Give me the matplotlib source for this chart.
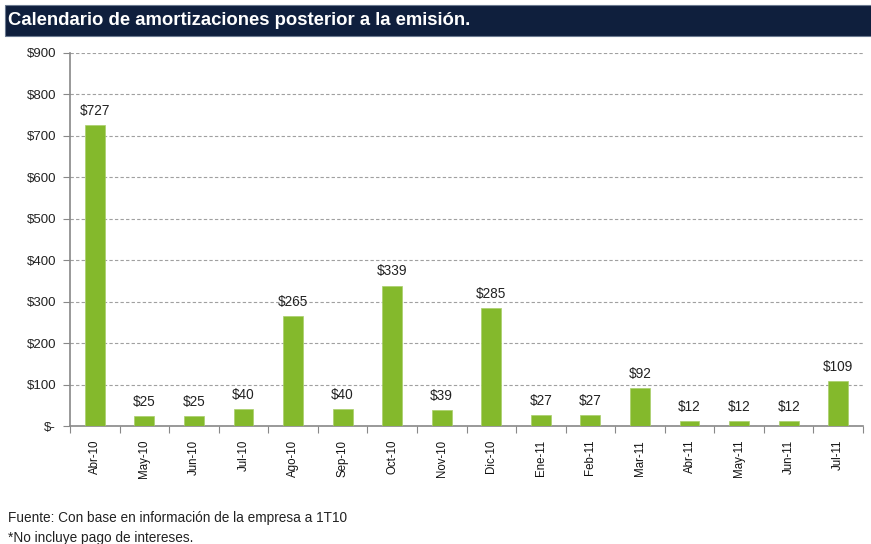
import matplotlib.pyplot as plt
from matplotlib.patches import Rectangle

plt.rcParams['font.family'] = ['Liberation Sans', 'DejaVu Sans']

meses = ['Abr-10', 'May-10', 'Jun-10', 'Jul-10', 'Ago-10', 'Sep-10', 'Oct-10', 'Nov-10',
         'Dic-10', 'Ene-11', 'Feb-11', 'Mar-11', 'Abr-11', 'May-11', 'Jun-11', 'Jul-11']
montos = [727, 25, 25, 40, 265, 40, 339, 39, 285, 27, 27, 92, 12, 12, 12, 109]
yticks = [0, 100, 200, 300, 400, 500, 600, 700, 800, 900]
ylabels = ['$-', '$100', '$200', '$300', '$400', '$500', '$600', '$700', '$800', '$900']

W, H = 871, 544
fig = plt.figure(figsize=(W / 100, H / 100), dpi=100)

# barra del titulo
fig.patches.append(Rectangle((5 / W, 1 - 36 / H), 1, 31 / H, transform=fig.transFigure,
                             facecolor='#0f1f3d', edgecolor='#6b7a90', lw=0.8))
fig.text(8 / W, 1 - 20.5 / H, 'Calendario de amortizaciones posterior a la emisión.',
         color='white', fontsize=13.3, fontweight='bold', va='center')

ax = fig.add_axes([70 / W, 1 - 426 / H, (863 - 70) / W, (426 - 53) / H])
x = list(range(len(meses)))
ax.bar(x, montos, width=0.4, color='#84b92c', edgecolor='#a9cf6a', linewidth=0.5, zorder=3)
for xi, v in zip(x, montos):
    ax.text(xi, v + 17, '$%d' % v, ha='center', va='bottom', fontsize=9.8, color='#222222')

ax.set_xlim(-0.5, len(meses) - 0.5)
ax.set_ylim(0, 900)
ax.set_yticks(yticks)
ax.set_yticklabels(ylabels, fontsize=9.5, color='#222222')
ax.yaxis.grid(True, linestyle=(0, (3, 2)), color='#a0a0a0', lw=0.8, zorder=0)

# ticks entre categorias y etiquetas al centro
ax.set_xticks([i - 0.5 for i in range(len(meses) + 1)])
ax.set_xticklabels([])
ax.set_xticks(x, minor=True)
ax.set_xticklabels(meses, minor=True, rotation=90, fontsize=8.3, color='#111111')
ax.tick_params(axis='x', which='major', length=5, color='#888888', direction='out')
ax.tick_params(axis='x', which='minor', length=0, pad=10)
ax.tick_params(axis='y', length=5, color='#888888', pad=5)

for s in ['top', 'right']:
    ax.spines[s].set_visible(False)
for s in ['left', 'bottom']:
    ax.spines[s].set_color('#888888')
    ax.spines[s].set_linewidth(1.2)

fig.text(8 / W, 1 - 518 / H, 'Fuente: Con base en información de la empresa a 1T10',
         fontsize=9.8, color='#222222', va='center')
fig.text(8 / W, 1 - 538 / H, '*No incluye pago de intereses.',
         fontsize=9.8, color='#222222', va='center')

fig.savefig('out.png', dpi=100)
